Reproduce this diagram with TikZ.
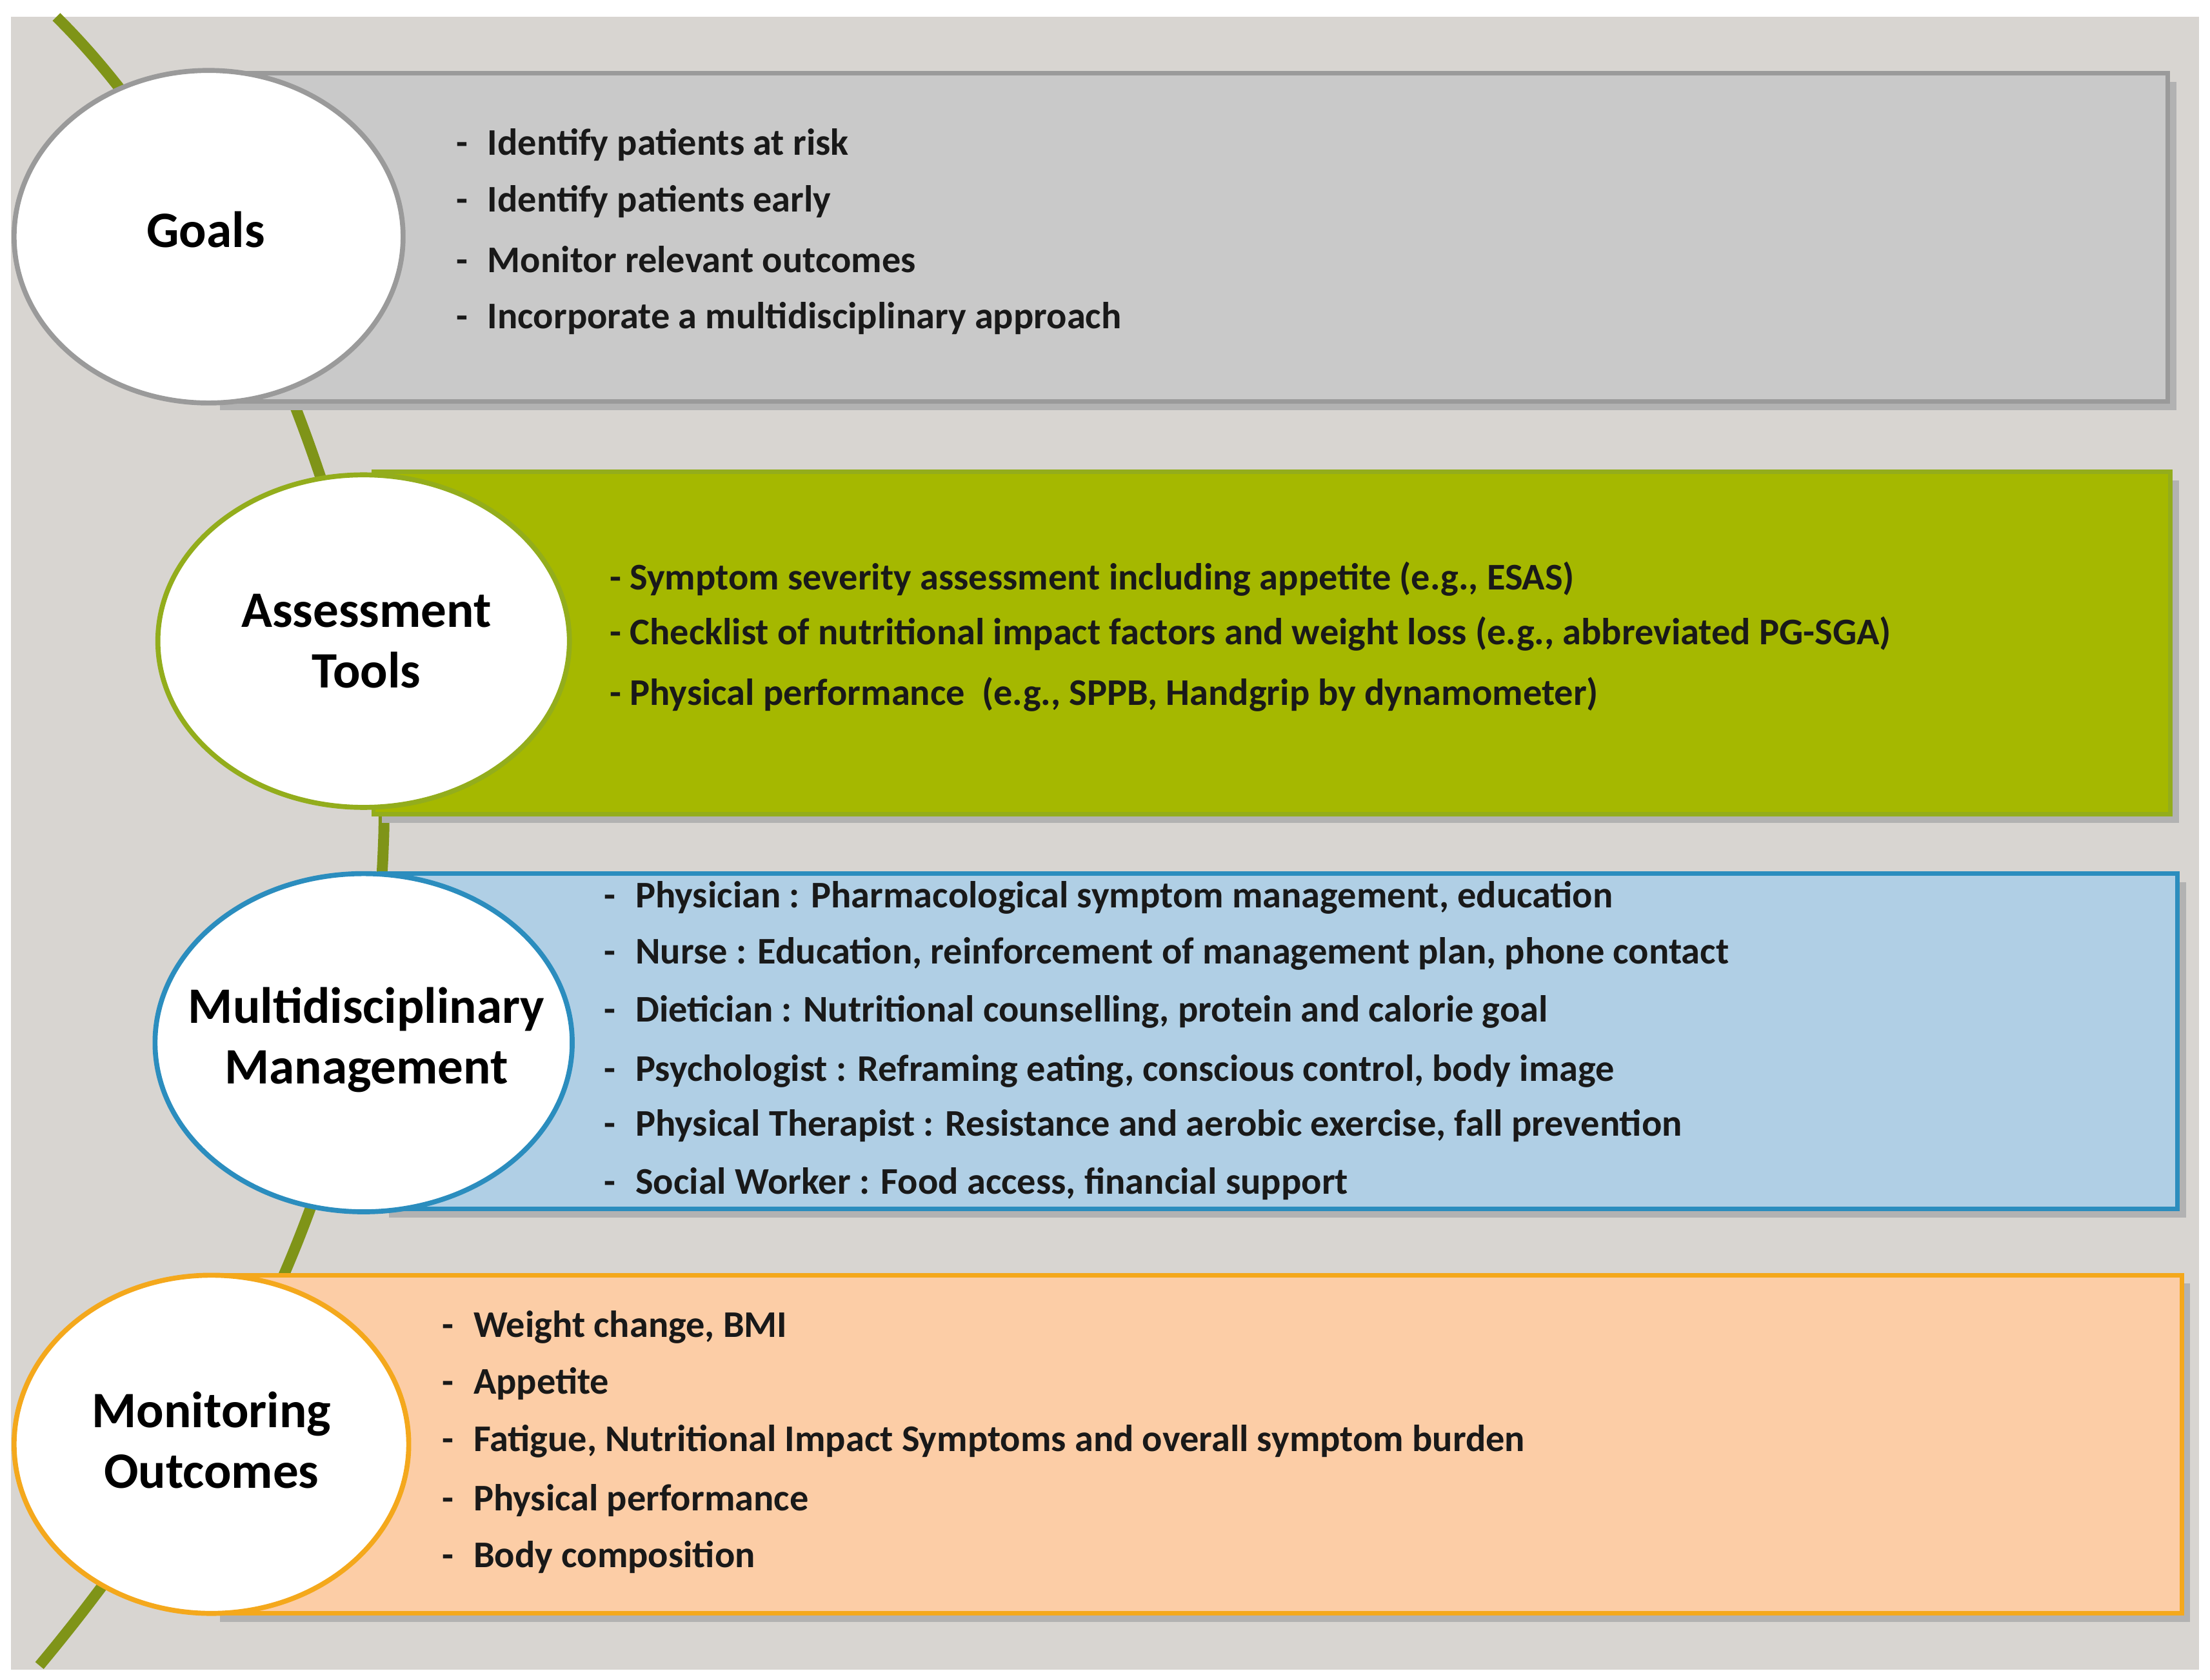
\documentclass[tikz,border=0pt]{standalone}
\usepackage{fontspec}
\setmainfont{Carlito}
\begin{document}
\begin{tikzpicture}[x=0.01cm,y=-0.01cm,
  item/.style={anchor=west,inner sep=0pt,font=\bfseries\fontsize{7.6}{8}\selectfont,text=black!90},
  lbl/.style={align=center,font=\bfseries\fontsize{10.3}{12.3}\selectfont},
  band/.style={line width=0.9pt}]
\definecolor{bg}{HTML}{D8D5D1}
\definecolor{vine}{HTML}{7F9418}
\definecolor{gbox}{HTML}{C9C9C9}\definecolor{gline}{HTML}{9A9A9A}
\definecolor{abox}{HTML}{A5B800}\definecolor{aline}{HTML}{93AD1C}
\definecolor{mbox}{HTML}{B0CFE5}\definecolor{mline}{HTML}{2B8DBE}
\definecolor{obox}{HTML}{FCCDA6}\definecolor{oline}{HTML}{F4A81C}
\newcommand{\dsh}{-\hspace{4pt}}
\useasboundingbox (0,0) rectangle (1568,1192);
\fill[white] (0,0) rectangle (1568,1192);
\fill[bg] (8,12) rectangle (1560,1185);
\coordinate (v0) at (40,12); \coordinate (v1) at (272,600); \coordinate (v2) at (28,1182);
\draw[vine,line width=2.2pt] (v0) .. controls (180,150) and (280,430) .. (v1) .. controls (265,800) and (180,1000) .. (v2);
% boxes
\fill[black!30] (156,58) rectangle (1544,291);
\draw[band,fill=gbox,draw=gline] (150,52) rectangle (1538,285);
\fill[black!30] (271,341) rectangle (1546,584);
\draw[band,fill=abox,draw=aline] (265,335) rectangle (1540,578);
\fill[black!30] (276,626) rectangle (1551,864);
\draw[band,fill=mbox,draw=mline] (270,620) rectangle (1545,858);
\fill[black!30] (156,911) rectangle (1554,1151);
\draw[band,fill=obox,draw=oline] (150,905) rectangle (1548,1145);
% circles
\draw[gline,line width=1pt,fill=white] (148,168) ellipse [x radius=138,y radius=118];
\node[lbl] (goals) at (146,163) {Goals};
\draw[aline,line width=1pt,fill=white] (258,455) ellipse [x radius=146,y radius=118];
\node[lbl] (assess) at (260,455) {Assessment\\Tools};
\draw[mline,line width=1pt,fill=white] (258,740) ellipse [x radius=148,y radius=120];
\node[lbl] (multi) at (260,738) {Multidisciplinary\\Management};
\draw[oline,line width=1pt,fill=white] (150,1025) ellipse [x radius=140,y radius=120];
\node[lbl] (mon) at (150,1022) {Monitoring\\Outcomes};
% goals
\node[item] (g1) at (323,103) {\dsh Identify patients at risk};
\node[item] (g2) at (323,143) {\dsh Identify patients early};
\node[item] (g3) at (323,184) {\dsh Monitor relevant outcomes};
\node[item] (g4) at (323,226) {\dsh Incorporate a multidisciplinary approach};
% assessment
\node[item] (a1) at (432,411) {- Symptom severity assessment including appetite (e.g., ESAS)};
\node[item] (a2) at (432,450) {- Checklist of nutritional impact factors and weight loss (e.g., abbreviated PG-SGA)};
\node[item] (a3) at (432,493) {- Physical performance\ \ (e.g., SPPB, Handgrip by dynamometer)};
% multi
\node[item] (m1) at (428,637) {\dsh Physician : Pharmacological symptom management, education};
\node[item] (m2) at (428,677) {\dsh Nurse : Education, reinforcement of management plan, phone contact};
\node[item] (m3) at (428,718) {\dsh Dietician : Nutritional counselling, protein and calorie goal};
\node[item] (m4) at (428,760) {\dsh Psychologist : Reframing eating, conscious control, body image};
\node[item] (m5) at (428,799) {\dsh Physical Therapist : Resistance and aerobic exercise, fall prevention};
\node[item] (m6) at (428,840) {\dsh Social Worker : Food access, financial support};
% monitoring
\node[item] (o1) at (313,942) {\dsh Weight change, BMI};
\node[item] (o2) at (313,982) {\dsh Appetite};
\node[item] (o3) at (313,1023) {\dsh Fatigue, Nutritional Impact Symptoms and overall symptom burden};
\node[item] (o4) at (313,1065) {\dsh Physical performance};
\node[item] (o5) at (313,1105) {\dsh Body composition};
\end{tikzpicture}
\end{document}
